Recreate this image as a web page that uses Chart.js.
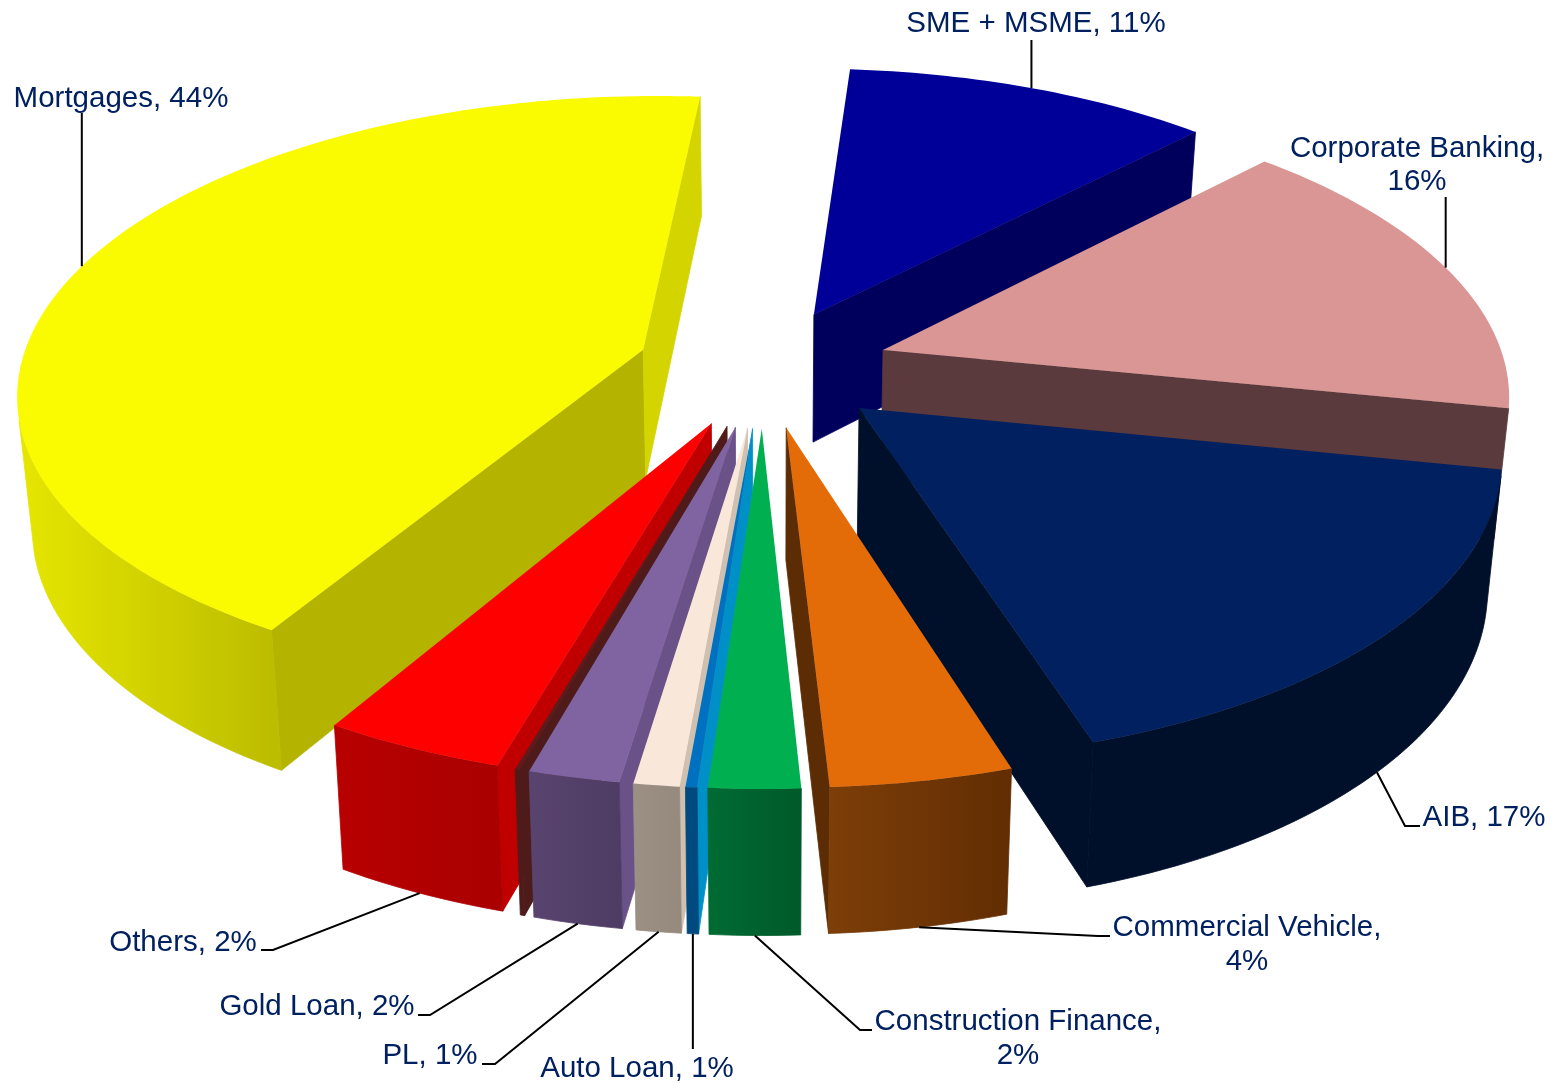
<!DOCTYPE html>
<html>
<head>
<meta charset="utf-8">
<style>
  html, body { margin: 0; padding: 0; background: #fff; }
  #wrap { width: 1554px; height: 1083px; }
</style>
<script src="https://cdn.jsdelivr.net/npm/chart.js@4/dist/chart.umd.js"></script>
</head>
<body>
<div id="wrap"><canvas id="pie" width="1554" height="1083"></canvas></div>
<script>
// clockwise from the top, the "" entry is the thin unlabelled sliver next to Gold Loan
const categories = ["SME + MSME", "Corporate Banking", "AIB", "Commercial Vehicle", "Construction Finance",
  "Auto Loan", "PL", "Gold Loan", "", "Others", "Mortgages"];
// slice sizes, the printed percentages are below
const values = [11, 15.9, 17, 4, 2, 0.25, 1, 2, 0.1, 4, 42.75];
const percents = [11, 16, 17, 4, 2, 1, 1, 2, 0, 2, 44];

const topColors = ["#000099", "#d99694", "#002060", "#e36c09", "#00b050",
  "#0070c0", "#f9e8d9", "#8064a2", "#5a1c1c", "#ff0000", "#fafa00"];
const startWall = ["#00005c", "#5a3a3c", "#000f2a", "#5c2d05", "#005a2a",
  "#0090c8", "#cfc0b0", "#6a5288", "#4f1a1a", "#c00000", "#b3b300"];
const endWall = ["#00005c", "#5a3a3c", "#000f2a", "#5c2d05", "#006b33",
  "#004a7f", "#9a8d82", "#55406a", "#4f1a1a", "#ab0000", "#d4d400"];
const outerFrom = ["#00005c", "#5a3a3c", "#000f2a", "#622d03", "#00592a",
  "#004a7f", "#968a7f", "#4f3c64", "#4f1a1a", "#aa0000", "#bdbd00"];
const outerTo = ["#00005c", "#5a3a3c", "#000f2a", "#7d3e08", "#006b33",
  "#004a7f", "#9c9085", "#58446e", "#4f1a1a", "#b80000", "#e6e600"];

const textColor = "#002060";
const labelFont = '29.5px "Liberation Sans"';
const labelLines = [
  [[1036, 24]], [[1417, 149], [1417, 182]], [[1484, 818]], [[1247, 928], [1247, 962]], [[1018, 1022], [1018, 1056]],
  [[637, 1069]], [[430, 1056]], [[317, 1007]], [], [[183, 943]], [[121, 99]]
];
// null x keeps the leader vertical
const leaderEnds = [
  [[null, 40]], [[null, 197]], [[1405, 826], [1420, 826]], [[1098, 936], [1110, 936]], [[860, 1030], [872, 1030]],
  [[null, 1049]], [[495, 1064], [482, 1064]], [[430, 1015], [418, 1015]], [], [[273, 950], [261, 950]], [[null, 113]]
];

// view of the pie plane
const view = { cx: 763, cy: 367.5, tilt: 0.47, dist: 4575, radius: 623, vanishX: 770, frontAngle: Math.PI * 0.98 };

function project(u, v) {
  const w = 1 - v / view.dist;
  return [view.cx + u / w, view.cy + view.tilt * v / w];
}
function drop(p) {
  return [p[0] + (view.vanishX - p[0]) * 0.02, p[1] + 115 + 0.04 * p[1]];
}
function shoelace(pts) {
  let s = 0;
  pts.forEach((p, i) => {
    const q = pts[(i + 1) % pts.length];
    s += p[0] * q[1] - q[0] * p[1];
  });
  return s;
}
function fillPoly(ctx, pts, color, seal) {
  ctx.beginPath();
  pts.forEach((p, i) => (i ? ctx.lineTo(p[0], p[1]) : ctx.moveTo(p[0], p[1])));
  ctx.closePath();
  ctx.fillStyle = color;
  ctx.fill();
  // walls get a hairline so no white seam shows under the top face
  if (seal) {
    ctx.strokeStyle = color;
    ctx.lineWidth = 0.8;
    ctx.stroke();
  }
}

function sliceGeometry(arc) {
  const k = view.radius / arc.outerRadius;
  const mid = (arc.startAngle + arc.endAngle) / 2;
  const d = arc.options.offset * k;
  const ou = Math.cos(mid) * d, ov = Math.sin(mid) * d;
  const steps = Math.max(2, Math.ceil((arc.endAngle - arc.startAngle) / 0.02));
  const rim = [];
  for (let i = 0; i <= steps; i++) {
    const a = arc.startAngle + ((arc.endAngle - arc.startAngle) * i) / steps;
    rim.push(project(ou + Math.cos(a) * view.radius, ov + Math.sin(a) * view.radius));
  }
  const midPoint = project(ou + Math.cos(mid) * view.radius, ov + Math.sin(mid) * view.radius);
  return { apex: project(ou, ov), rim, mid, midPoint };
}

function drawSlice(ctx, arc, i) {
  const g = sliceGeometry(arc);
  const wall = (a, b, color) => {
    const quad = [a, b, drop(b), drop(a)];
    if (shoelace(quad) < 0) fillPoly(ctx, quad, color, true);
  };
  wall(g.apex, g.rim[0], startWall[i]);
  wall(g.rim[g.rim.length - 1], g.apex, endWall[i]);

  // outer wall: the part of the rim that faces the viewer, shaded across x
  const seen = g.rim.filter((p, s) => {
    const q = g.rim[s + 1] || g.rim[s - 1];
    const pair = g.rim[s + 1] ? [p, q, drop(q), drop(p)] : [q, p, drop(p), drop(q)];
    return shoelace(pair) < 0;
  });
  if (seen.length > 1) {
    const first = seen[0], last = seen[seen.length - 1];
    const grad = ctx.createLinearGradient(first[0], 0, last[0], 0);
    grad.addColorStop(0, outerFrom[i]);
    grad.addColorStop(1, outerTo[i]);
    fillPoly(ctx, [...seen, ...seen.slice().reverse().map(drop)], grad, true);
  }
  fillPoly(ctx, [g.apex, ...g.rim], arc.options.backgroundColor, false);
}

const pie3d = {
  id: "pie3d",
  beforeDatasetDraw(chart) {
    const ctx = chart.ctx;
    const arcs = chart.getDatasetMeta(0).data;
    const order = arcs.map((arc, i) => i).sort((a, b) => {
      const off = (arc) => {
        const m = (((arc.startAngle + arc.endAngle) / 2 + Math.PI / 2) % (2 * Math.PI) + 2 * Math.PI) % (2 * Math.PI);
        return Math.abs(m - view.frontAngle);
      };
      return off(arcs[b]) - off(arcs[a]);
    });
    ctx.save();
    order.forEach((i) => drawSlice(ctx, arcs[i], i));
    ctx.restore();
    return false;
  },
  afterDatasetsDraw(chart) {
    const ctx = chart.ctx;
    const arcs = chart.getDatasetMeta(0).data;
    ctx.save();
    ctx.strokeStyle = "#000";
    ctx.lineWidth = 2;
    arcs.forEach((arc, i) => {
      if (!categories[i]) return;
      const g = sliceGeometry(arc);
      const start = Math.sin(g.mid) > 0 ? drop(g.midPoint) : g.midPoint;
      ctx.beginPath();
      ctx.moveTo(start[0], start[1]);
      leaderEnds[i].forEach((p) => ctx.lineTo(p[0] === null ? start[0] : p[0], p[1]));
      ctx.stroke();
    });
    ctx.font = labelFont;
    ctx.fillStyle = textColor;
    ctx.textAlign = "center";
    ctx.textBaseline = "middle";
    arcs.forEach((arc, i) => {
      if (!categories[i]) return;
      const text = `${categories[i]}, ${percents[i]}%`;
      const spots = labelLines[i];
      if (spots.length === 1) {
        ctx.fillText(text, spots[0][0], spots[0][1]);
      } else {
        const cut = text.lastIndexOf(" ");
        ctx.fillText(text.slice(0, cut), spots[0][0], spots[0][1]);
        ctx.fillText(text.slice(cut + 1), spots[1][0], spots[1][1]);
      }
    });
    ctx.restore();
  }
};

new Chart(document.getElementById("pie").getContext("2d"), {
  type: "pie",
  data: {
    labels: categories,
    datasets: [{ data: values, backgroundColor: topColors, borderWidth: 0, offset: 100 }]
  },
  options: {
    responsive: false,
    animation: false,
    rotation: 4.5,
    plugins: { legend: { display: false }, tooltip: { enabled: false } }
  },
  plugins: [pie3d]
});
</script>
</body>
</html>
